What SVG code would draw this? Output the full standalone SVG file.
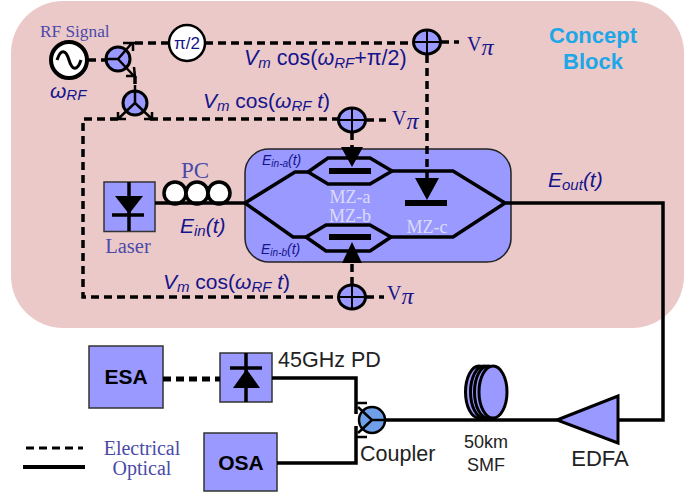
<svg xmlns="http://www.w3.org/2000/svg" width="690" height="494" viewBox="0 0 690 494">
<style>
.e{fill:none;stroke:#000;stroke-width:3.5;stroke-dasharray:8 5}
.o{fill:none;stroke:#000;stroke-width:3.5;stroke-linejoin:miter}
.t{fill:none;stroke:#000;stroke-width:2.5}
.box{fill:#9999ff;stroke:#333;stroke-width:1.5}
.fill{fill:#9999ff;stroke:#000;stroke-width:3}
.s{font-family:"Liberation Sans",Arial,sans-serif}
.m{font-family:"Liberation Sans",Arial,sans-serif;fill:#14148c;font-size:21px}
.r{font-family:"Liberation Serif","Times New Roman",serif;fill:#4a4aa8}
.w{font-family:"Liberation Serif","Times New Roman",serif;fill:#dcdcf8;font-size:18px;text-anchor:middle}
.g{font-family:"Liberation Sans",Arial,sans-serif;fill:#222}
.sub{font-size:15px}
.i{font-style:italic}
.b{font-family:"Liberation Sans",Arial,sans-serif;font-weight:bold;font-size:21px;text-anchor:middle;fill:#000}
.vp{font-family:"Liberation Serif",serif;fill:#14148c;font-size:20px}
.ph{fill:#14148c;font-size:24px;font-style:italic;font-family:"Liberation Serif",serif}
</style>
<defs>
<g id="adder"><ellipse cx="0" cy="0" rx="13.500" ry="12" class="fill"/><path d="M-13.500 0H13.500M0-12V12" stroke="#000" stroke-width="2"/></g>
</defs>
<rect x="11" y="1" width="673" height="327" rx="52" ry="52" fill="#ecc9c9"/>
<text x="593" y="43" text-anchor="middle" class="s" font-weight="bold" font-size="22" fill="#1ea7e6">Concept</text>
<text x="593" y="69" text-anchor="middle" class="s" font-weight="bold" font-size="22" fill="#1ea7e6">Block</text>

<g id="rf-source"><circle cx="69" cy="60" r="18" fill="#fff" stroke="#000" stroke-width="4"/><path d="M57 60C61 48 66 50 69 60C72 70 77 72 81 60" fill="none" stroke="#000" stroke-width="3"/></g>
<text class="r" x="40" y="37" font-size="17.300">RF Signal</text>
<text class="m i" x="50" y="98" font-size="24">ω<tspan class="sub" dy="2" font-size="15">RF</tspan></text>

<g id="splitter-1"><circle cx="118" cy="59" r="12" class="fill" stroke-width="2.500"/><path d="M106 59H118L132 43M123 43H136M133 43V51M118 59 133 75M134 67 135 77M126 76H136" class="t"/></g>
<g id="splitter-2"><circle cx="135" cy="103" r="12" class="fill" stroke-width="2.500"/><path d="M135 85V103L118 119M135 103 152 119M111 119H126M144 119H154M152 112V119M118 112V119" class="t"/></g>
<g id="phase"><circle cx="187" cy="43" r="18" fill="#fff" stroke="#000" stroke-width="2.500"/><text class="s" x="187" y="49" text-anchor="middle" font-size="17" fill="#14148c">π/2</text></g>

<text class="m" x="244" y="65" style="font-size:21.500px"><tspan class="i">V</tspan><tspan class="sub i" dy="3">m</tspan><tspan dy="-3"> cos(</tspan><tspan class="i">ω</tspan><tspan class="sub i" dy="3">RF</tspan><tspan dy="-3">+π/2)</tspan></text>
<text class="m" x="203" y="108"><tspan class="i">V</tspan><tspan class="sub i" dy="3">m</tspan><tspan dy="-3"> cos(</tspan><tspan class="i">ω</tspan><tspan class="sub i" dy="3">RF</tspan><tspan class="i" dy="-3"> t</tspan><tspan>)</tspan></text>
<text class="m" x="163" y="289"><tspan class="i">V</tspan><tspan class="sub i" dy="3">m</tspan><tspan dy="-3"> cos(</tspan><tspan class="i">ω</tspan><tspan class="sub i" dy="3">RF</tspan><tspan class="i" dy="-3"> t</tspan><tspan>)</tspan></text>

<g id="adder-c"><use href="#adder" x="427" y="42"/><text class="vp" x="467" y="51">V<tspan class="ph" dy="4">π</tspan></text></g>
<g id="adder-a"><use href="#adder" x="352" y="120"/><text class="vp" x="392" y="125">V<tspan class="ph" dy="4">π</tspan></text></g>
<g id="adder-b"><use href="#adder" x="352" y="297"/><text class="vp" x="387" y="300">V<tspan class="ph" dy="4">π</tspan></text></g>

<g id="laser"><rect x="104" y="182" width="51" height="49.500" class="box"/><path d="M129 182V231M112 215H144" stroke="#000" stroke-width="3.500"/><path d="M115 196H143L129 214Z" fill="#000"/></g>
<text class="r" x="128" y="253" text-anchor="middle" font-size="20.500">Laser</text>
<g id="pc"><g fill="#fff" stroke="#000" stroke-width="3.500"><circle cx="175" cy="193" r="11"/><circle cx="197" cy="193" r="11"/><circle cx="219" cy="193" r="11"/></g></g>
<text class="r" x="195" y="178" text-anchor="middle" font-size="23">PC</text>
<text class="m i" x="180" y="233">E<tspan class="sub" dy="3">in</tspan><tspan dy="-3">(t)</tspan></text>

<g id="modulator">
<rect x="245" y="149" width="266" height="113" rx="24" ry="24" fill="#9999ff" stroke="#222" stroke-width="1.500"/>
<path class="o" d="M308 172L328 158H370L392 171L370 184H328ZM306 237L326 225H370L391 237L370 251H326Z"/>
<path d="M329 168H371V174H329ZM329 234H371V240H329ZM405 200H447V206H405Z" fill="#000"/>
<text class="w" x="350" y="203">MZ-a</text>
<text class="w" x="350" y="222">MZ-b</text>
<text class="w" x="427" y="233">MZ-c</text>
<text x="262" y="165" class="s i" font-size="14" fill="#14148c">E<tspan font-size="10" dy="2">in-a</tspan><tspan dy="-2">(t)</tspan></text>
<text x="261" y="254" class="s i" font-size="14" fill="#14148c">E<tspan font-size="10" dy="2">in-b</tspan><tspan dy="-2">(t)</tspan></text>
</g>
<text class="m i" x="548" y="187">E<tspan class="sub" dy="3">out</tspan><tspan dy="-3">(t)</tspan></text>

<g id="esa"><rect x="89" y="346" width="74" height="62" class="box"/><text class="b" x="126" y="384">ESA</text></g>
<g id="osa"><rect x="204" y="433" width="73" height="58" class="box"/><text class="b" x="241" y="470">OSA</text></g>
<g id="pd"><rect x="220" y="353" width="52" height="49" class="box"/><path d="M246 353V402M230 368H262" stroke="#000" stroke-width="3.500"/><path d="M233 388H260L246.500 369Z" fill="#000"/></g>
<text class="g" x="278" y="367" font-size="21.500">45GHz PD</text>
<g id="coupler"><circle cx="372" cy="420" r="13" fill="#6f9fe8" stroke="#000" stroke-width="2.500"/><path d="M358 407 372 420 358 433M372 420H385" class="t"/></g>
<text class="g" x="360" y="461" font-size="21.500">Coupler</text>
<g id="fiber" fill="#9999ff" stroke="#000" stroke-width="3"><ellipse cx="479" cy="392" rx="13.500" ry="26"/><ellipse cx="484" cy="392" rx="13.500" ry="26"/><ellipse cx="488" cy="392" rx="13.500" ry="26"/><ellipse cx="493" cy="392" rx="14" ry="26"/></g>
<text class="g" x="486" y="448" text-anchor="middle" font-size="18">50km</text>
<text class="g" x="486" y="471" text-anchor="middle" font-size="18">SMF</text>
<g id="edfa"><path d="M557 420 618 396V443Z" class="fill"/></g>
<text class="g" x="600" y="466" text-anchor="middle" font-size="22">EDFA</text>
<text class="r" x="142" y="455" text-anchor="middle" font-size="20">Electrical</text>
<text class="r" x="142" y="475" text-anchor="middle" font-size="20">Optical</text>

<g id="connectors">
<path class="e" d="M88 60H106"/>
<path class="e" d="M135 43H169M205 43H414M441 42H459"/>
<path class="e" d="M135 76V85"/>
<path class="e" d="M150 119H339M366 120H386"/>
<path class="e" d="M118 119H83V297H339M366 297H384"/>
<path class="e" d="M427 55V178"/>
<path class="e" d="M352 132V148"/>
<path class="e" d="M352 285V263"/>
<path class="e" d="M163 379H220" style="stroke-width:5"/>
<path class="e" d="M26 448H83" style="stroke-width:3"/>
<path class="o" d="M23 467H85" style="stroke-width:4"/>
<path class="o" d="M155 203H245"/>
<path class="o" d="M245 203L295 172H308M245 203L293 237H306"/>
<path class="o" d="M392 171H453L505 203M391 237H453L505 203"/>
<path class="o" d="M505 203H663V420H618"/>
<path class="o" d="M557 420H385"/>
<path class="o" d="M272 378H356V414"/>
<path class="o" d="M277 463H356V426"/>
<path class="t" d="M356 403H367M356 437H367"/>
<path d="M415 178H439L427 200Z" fill="#000"/>
<path d="M341 147H363L352 167Z" fill="#000"/>
<path d="M342 263H362L352 242Z" fill="#000"/>
</g>
</svg>
